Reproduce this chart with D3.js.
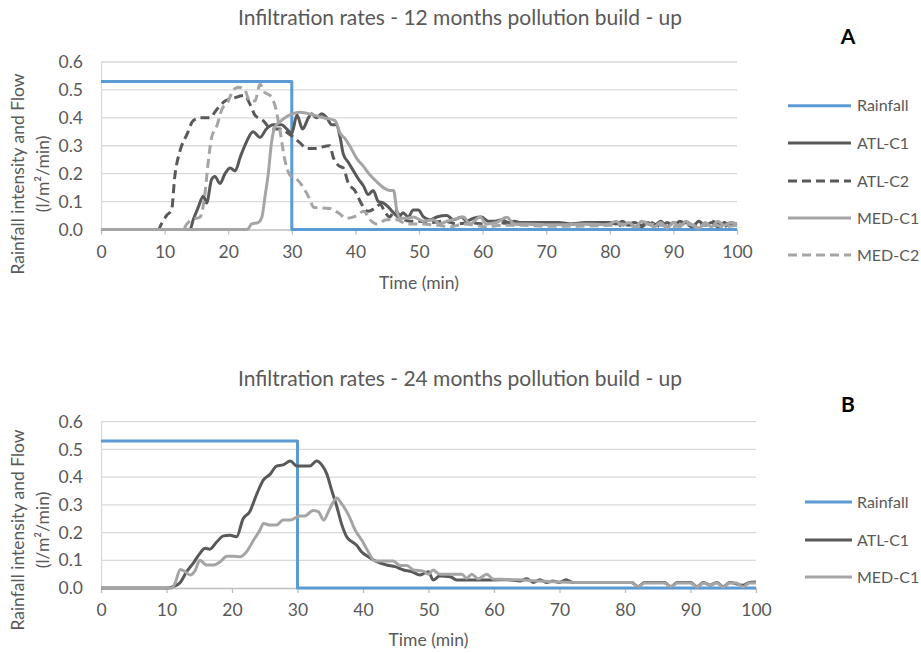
<!DOCTYPE html>
<html><head><meta charset="utf-8">
<script src="https://cdn.jsdelivr.net/npm/d3@7"></script>
<style>body{margin:0;background:#fff} text{font-family:Lato,"Open Sans",sans-serif}</style>
</head><body><svg id="c" width="921" height="653"></svg>
<script>
// ---- data ----
const xTicks = [0,10,20,30,40,50,60,70,80,90,100];
const yTicks = [0,0.1,0.2,0.3,0.4,0.5,0.6];
const seriesNamesA = ["Rainfall","ATL-C1","ATL-C2","MED-C1","MED-C2"];
const seriesNamesB = ["Rainfall","ATL-C1","MED-C1"];
const titleA = "Infiltration rates - 12 months pollution build - up";
const titleB = "Infiltration rates - 24 months pollution build - up";

const rainA = [[0,0.53],[30,0.53],[30,0],[100,0]];
const rainB = [[0,0.53],[30,0.53],[30,0],[100,0]];

const atlC1A = [[0,0],[14,0],[14.5,0.035],[15.3,0.08],[16.1,0.12],[16.6,0.095],[17.4,0.18],[17.9,0.19],[18.7,0.165],[19.5,0.2],[20.3,0.22],[21.1,0.21],[21.9,0.26],[22.9,0.315],[23.9,0.35],[25,0.33],[26,0.36],[27.1,0.375],[28.4,0.375],[29.2,0.36],[30,0.345],[30.8,0.41],[31.7,0.36],[32.6,0.40],[33.1,0.415],[33.9,0.40],[34.7,0.415],[35.5,0.40],[36.3,0.375],[37.05,0.375],[37.6,0.33],[38.1,0.27],[38.9,0.24],[39.7,0.21],[40.5,0.18],[41.3,0.155],[42,0.125],[42.8,0.14],[43.6,0.10],[44.4,0.095],[45.2,0.08],[46,0.06],[46.8,0.045],[47.5,0.06],[48.3,0.045],[49.1,0.07],[49.9,0.07],[50.7,0.045],[51.7,0.035],[52.8,0.045],[54.4,0.05],[55.4,0.035],[56.7,0.045],[57.5,0.03],[58.5,0.04],[59.8,0.045],[60.9,0.03],[62,0.03],[63,0.035],[64,0.025],[65,0.03],[66,0.025],[68,0.025],[70,0.025],[72,0.025],[74,0.02],[76,0.025],[78,0.025],[80,0.025],[81,0.02],[82,0.03],[83,0.015],[84,0.025],[85,0.01],[86,0.025],[87,0.015],[88,0.03],[89,0.01],[90,0.025],[91,0.015],[92,0.025],[93,0.01],[94,0.03],[95,0.015],[96,0.025],[97,0.01],[98,0.025],[99,0.015],[100,0.02]];

const atlC2A = [[0,0],[9,0],[9.5,0.02],[10.3,0.05],[11.1,0.07],[11.6,0.19],[12.4,0.28],[13.5,0.34],[14.5,0.39],[15.6,0.40],[17.1,0.40],[18.2,0.43],[19.5,0.46],[20.8,0.47],[22.6,0.48],[23.4,0.45],[24.2,0.41],[25.5,0.39],[26.8,0.36],[28.1,0.36],[29.7,0.34],[31.3,0.31],[32.4,0.29],[33.4,0.29],[36,0.30],[36.5,0.26],[37.3,0.23],[38.1,0.22],[38.9,0.165],[39.9,0.14],[41,0.09],[42,0.065],[43,0.075],[43.9,0.09],[44.7,0.06],[45.4,0.045],[46.2,0.07],[47.3,0.04],[48.6,0.03],[50,0.03],[52,0.025],[54,0.03],[56,0.02],[58,0.025],[60,0.02],[62,0.025],[65,0.02],[70,0.02],[75,0.02],[80,0.02],[81,0.025],[82,0.01],[83,0.02],[84,0.025],[85,0.015],[86,0.03],[87,0.02],[88,0.01],[89,0.025],[90,0.015],[91,0.03],[92,0.02],[93,0.01],[94,0.025],[95,0.015],[96,0.03],[97,0.02],[98,0.01],[99,0.025],[100,0.015]];

const medC1A = [[0,0],[23,0],[23.7,0.02],[24.7,0.025],[25.3,0.045],[25.8,0.12],[26.3,0.20],[26.8,0.31],[27.4,0.37],[28.1,0.385],[29.2,0.405],[30.2,0.415],[31.3,0.42],[33.4,0.41],[35,0.40],[36.8,0.39],[37.6,0.345],[38.4,0.325],[39.1,0.30],[40.2,0.255],[41.3,0.225],[42.3,0.195],[43.4,0.17],[44.4,0.15],[45.4,0.14],[46,0.14],[46.5,0.07],[47,0.04],[48,0.04],[49.1,0.045],[50.7,0.03],[52.3,0.035],[53.3,0.02],[54.4,0.03],[55.4,0.035],[57,0.045],[58,0.02],[59.6,0.045],[60.6,0.02],[62.2,0.025],[63.8,0.044],[65,0.02],[67,0.02],[70,0.017],[73,0.017],[76,0.02],[79,0.017],[80,0.02],[81,0.03],[82,0.015],[83,0.025],[84,0.01],[85,0.03],[86,0.02],[87,0.01],[88,0.025],[89,0.005],[90,0.025],[91,0.01],[92,0.03],[93,0.015],[94,0.005],[95,0.025],[96,0.01],[97,0.03],[98,0.015],[99,0.025],[100,0.02]];

const medC2A = [[0,0],[12.9,0],[13.5,0.02],[14.3,0.035],[15.6,0.045],[16.3,0.12],[16.9,0.25],[17.4,0.33],[18.2,0.37],[19,0.43],[20,0.46],[20.8,0.50],[21.6,0.51],[22.6,0.50],[23.4,0.46],[24.2,0.46],[25,0.52],[25.8,0.49],[26.6,0.48],[27.4,0.44],[28.1,0.36],[28.9,0.25],[29.7,0.195],[30.8,0.18],[32.1,0.14],[32.9,0.105],[33.4,0.08],[36,0.075],[37.3,0.06],[38.6,0.04],[40.2,0.05],[41.3,0.065],[42.3,0.035],[43.3,0.02],[44.9,0.035],[46.5,0.035],[48,0.02],[50,0.02],[53,0.015],[55,0.01],[57,0.02],[60.6,0.01],[63,0.015],[66,0.015],[70,0.012],[75,0.012],[80,0.015],[82,0.02],[84,0.01],[86,0.02],[88,0.015],[90,0.01],[92,0.02],[94,0.012],[96,0.018],[98,0.01],[100,0.015]];

const atlC1B = [[0,0],[10.3,0],[11,0.005],[12.1,0.02],[13.1,0.06],[14.1,0.09],[15.1,0.125],[15.9,0.143],[16.6,0.14],[17.7,0.167],[18.7,0.188],[19.7,0.19],[20.7,0.185],[21.7,0.25],[22.7,0.275],[23.8,0.34],[24.8,0.39],[25.8,0.41],[26.8,0.44],[27.8,0.444],[28.9,0.458],[29.9,0.44],[31.9,0.44],[32.9,0.458],[33.7,0.444],[34.5,0.41],[35.2,0.354],[36,0.294],[36.7,0.233],[37.5,0.185],[38.3,0.167],[39,0.155],[39.8,0.13],[40.8,0.113],[42.1,0.095],[43.6,0.083],[44.9,0.077],[46.2,0.065],[47.4,0.059],[48.7,0.047],[50,0.059],[50.7,0.029],[51.7,0.043],[53.3,0.041],[54.3,0.029],[56,0.029],[58,0.029],[60,0.029],[62,0.03],[64,0.025],[65,0.033],[66,0.02],[67,0.03],[68,0.02],[69,0.025],[70,0.02],[71,0.03],[72,0.02],[75,0.02],[80,0.02],[81,0.02],[82,0.005],[83,0.02],[85,0.02],[86,0.02],[87,0.005],[88,0.02],[90,0.02],[91,0.005],[92,0.02],[93,0.01],[94,0.02],[95,0.005],[96,0.02],[98,0.01],[99,0.02],[100,0.022]];

const medC1B = [[0,0],[10.8,0],[11.3,0.017],[12.1,0.067],[12.8,0.06],[13.6,0.047],[14.3,0.06],[15.1,0.10],[16.1,0.083],[17.2,0.083],[18.2,0.095],[19.2,0.115],[20.2,0.115],[21.2,0.113],[22.2,0.13],[23.3,0.173],[24.3,0.21],[24.8,0.233],[25.8,0.227],[26.8,0.227],[27.8,0.245],[28.9,0.245],[30.4,0.26],[31.1,0.26],[32.4,0.28],[33.2,0.275],[34,0.245],[34.8,0.28],[36,0.325],[36.7,0.305],[37.8,0.263],[38.8,0.209],[39.8,0.173],[40.8,0.131],[41.8,0.097],[43.1,0.097],[44.6,0.097],[45.7,0.081],[46.7,0.081],[47.7,0.065],[49.2,0.061],[50,0.05],[50.7,0.065],[51.7,0.05],[53.8,0.05],[55.1,0.05],[55.8,0.035],[56.6,0.05],[57.6,0.033],[58.9,0.05],[59.9,0.032],[61,0.032],[63,0.03],[65,0.028],[67,0.025],[70,0.022],[75,0.02],[80,0.02],[81,0.02],[82,0.005],[83,0.018],[86,0.018],[87,0.005],[88,0.018],[90,0.018],[91,0.004],[92,0.018],[93,0.01],[94,0.018],[95,0.004],[96,0.018],[97,0.018],[98,0.004],[99,0.018],[100,0.018]];

// ---- styles ----
const style = {
  "Rainfall": {color:"#5B9BD5", dash:null, straight:true},
  "ATL-C1": {color:"#595959", dash:null},
  "ATL-C2": {color:"#595959", dash:"9,5"},
  "MED-C1": {color:"#A5A5A5", dash:null},
  "MED-C2": {color:"#A5A5A5", dash:"9,5"}
};

const panels = [
  {title:titleA, letter:"A", names:seriesNamesA, data:[rainA,atlC1A,atlC2A,medC1A,medC2A],
   x0:101, x1:737, yb:229.5, yt:62, titleY:25, letterX:848, letterY:44,
   legX1:788, legX2:851, legY:[105.7,143,181,218,255], xTitleY:289, yLabY:174},
  {title:titleB, letter:"B", names:seriesNamesB, data:[rainB,atlC1B,medC1B],
   x0:101, x1:756, yb:588, yt:421.7, titleY:386, letterX:848, letterY:412,
   legX1:805, legX2:852, legY:[502,540,577], xTitleY:646, yLabY:530}
];

const svg = d3.select("#c");
const txt = "#595959";
const fs = "17.5px";

panels.forEach(p => {
  const g = svg.append("g");
  const x = d3.scaleLinear().domain([0,100]).range([p.x0,p.x1]);
  const y = d3.scaleLinear().domain([0,0.6]).range([p.yb,p.yt]);

  g.selectAll("line.grid").data(yTicks.filter(d=>d>0)).enter().append("line")
    .attr("x1",p.x0).attr("x2",p.x1).attr("y1",d=>y(d)).attr("y2",d=>y(d))
    .attr("stroke","#D9D9D9").attr("stroke-width",1.3);

  const ya = g.append("g").attr("transform",`translate(${p.x0},0)`)
    .call(d3.axisLeft(y).tickValues(yTicks).tickFormat(d3.format(".1f")).tickSize(0).tickPadding(18));
  ya.select(".domain").attr("stroke","#D9D9D9").attr("stroke-width",1.3);
  ya.selectAll("text").attr("fill",txt).style("font-size",fs).style("font-family","Lato");

  const xa = g.append("g").attr("transform",`translate(0,${p.yb})`)
    .call(d3.axisBottom(x).tickValues(xTicks).tickSize(5).tickSizeOuter(0).tickPadding(11));
  xa.select(".domain").attr("stroke","#BFBFBF").attr("stroke-width",1.3);
  xa.selectAll(".tick line").attr("stroke","#BFBFBF").attr("stroke-width",1.3);
  xa.selectAll("text").attr("fill",txt).style("font-size",fs).style("font-family","Lato");

  p.names.forEach((n,i) => {
    const s = style[n];
    const line = d3.line().x(d=>x(d[0])).y(d=>y(d[1]))
      .curve(s.straight ? d3.curveLinear : d3.curveMonotoneX);
    g.append("path").datum(p.data[i]).attr("d",line)
      .attr("fill","none").attr("stroke",s.color).attr("stroke-width",3)
      .attr("stroke-dasharray",s.dash).attr("stroke-linejoin","round");
    g.append("line").attr("x1",p.legX1).attr("x2",p.legX2)
      .attr("y1",p.legY[i]).attr("y2",p.legY[i])
      .attr("stroke",s.color).attr("stroke-width",3).attr("stroke-dasharray",s.dash);
    g.append("text").attr("x",857).attr("y",p.legY[i]).attr("dy","0.35em")
      .attr("fill",txt).style("font-size","16px").text(n);
  });

  g.append("text").attr("x",460).attr("y",p.titleY).attr("text-anchor","middle")
    .attr("fill",txt).style("font-size","21px").text(p.title);
  g.append("text").attr("x",p.letterX).attr("y",p.letterY).attr("text-anchor","middle")
    .attr("fill","#000").style("font-size","21px").style("font-weight","bold").text(p.letter);
  g.append("text").attr("x",(p.x0+p.x1)/2).attr("y",p.xTitleY).attr("text-anchor","middle")
    .attr("fill",txt).style("font-size",fs).text("Time (min)");
  const yl = g.append("text").attr("transform",`translate(18,${p.yLabY}) rotate(-90)`)
    .attr("text-anchor","middle").attr("fill",txt).style("font-size",fs);
  yl.append("tspan").attr("x",0).attr("dy","0.35em").text("Rainfall intensity and Flow");
  yl.append("tspan").attr("x",0).attr("dy","1.4em").text("(l/m\u00B2/min)");
});
</script></body></html>
